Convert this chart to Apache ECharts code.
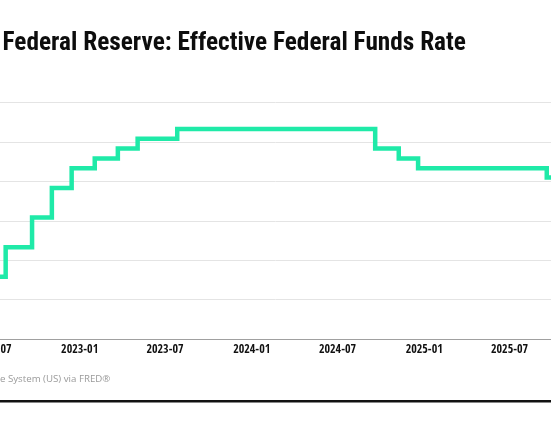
<!DOCTYPE html>
<html>
<head>
<meta charset="utf-8">
<script src="https://cdn.jsdelivr.net/npm/echarts@6/dist/echarts.min.js"></script>
<style>
  html, body { margin: 0; padding: 0; background: #ffffff; }
  #chart { width: 551px; height: 431px; }
</style>
</head>
<body>
<div id="chart"></div>
<script>
// ---- data ----
const changeDates = ['2022-06-16','2022-07-28','2022-09-22','2022-11-03','2022-12-15','2023-02-02','2023-03-23','2023-05-04','2023-07-27','2024-09-19','2024-11-08','2024-12-19','2025-09-18','2025-11-01'];
const rates       = [1.58, 2.33, 3.08, 3.83, 4.33, 4.58, 4.83, 5.08, 5.33, 4.83, 4.58, 4.33, 4.10, 4.10];
const tickLabels  = ['2022-07','2023-01','2023-07','2024-01','2024-07','2025-01','2025-07'];
const yTicks      = [0, 1, 2, 3, 4, 5, 6];
const titleText   = 'Federal Reserve: Effective Federal Funds Rate';
const sourceText  = 'e System (US) via FRED®';

function toTs(s) {
  const p = s.split('-').map(Number);
  return Date.UTC(p[0], p[1] - 1, p[2] || 1);
}
const seriesData = changeDates.map((d, i) => [toTs(d), rates[i]]);
const tickValues = tickLabels.map(toTs);
const labelFor = v => {
  const i = tickValues.indexOf(v);
  return i >= 0 ? tickLabels[i] : '';
};

const chart = echarts.init(document.getElementById('chart'), null, { renderer: 'canvas' });
chart.setOption({
  animation: false,
  backgroundColor: '#ffffff',
  title: {
    text: titleText,
    left: 2.5,
    top: 31,
    padding: 0,
    textStyle: {
      fontFamily: '"Roboto Condensed", "Open Sans Condensed", sans-serif',
      fontWeight: 'bold',
      fontSize: 25.3,
      color: '#0d0d0d'
    }
  },
  grid: {
    left: -21.2,
    right: -16.5,
    top: 102.5,
    bottom: 92,
    containLabel: false,
    outerBoundsMode: 'none'
  },
  xAxis: {
    type: 'value',
    min: toTs('2022-06-01'),
    max: toTs('2025-11-01'),
    axisLine: { show: true, lineStyle: { color: '#a0a0a0', width: 1.2 } },
    axisTick: { show: false },
    splitLine: { show: false },
    axisLabel: {
      customValues: tickValues,
      formatter: labelFor,
      margin: 5,
      fontFamily: '"Open Sans Condensed", "Roboto Condensed", sans-serif',
      fontWeight: 'bold',
      fontSize: 12,
      color: '#111111',
      hideOverlap: false
    }
  },
  yAxis: {
    type: 'value',
    min: yTicks[0],
    max: yTicks[yTicks.length - 1],
    interval: 1,
    axisLabel: { show: false },
    axisLine: { show: false },
    axisTick: { show: false },
    splitLine: { show: true, lineStyle: { color: '#e4e4e4', width: 1 } }
  },
  series: [{
    type: 'line',
    step: 'end',
    data: seriesData,
    showSymbol: false,
    symbol: 'none',
    clip: true,
    lineStyle: { color: '#1feaa8', width: 4.5, cap: 'butt', join: 'miter' }
  }],
  graphic: [
    {
      type: 'text',
      left: 0,
      top: 374,
      style: { text: sourceText, fill: '#9a9a9a', font: '9.7px "Open Sans", "Noto Sans", sans-serif' }
    },
    {
      type: 'rect',
      left: 0,
      top: 400,
      shape: { width: 551, height: 2.5 },
      style: { fill: '#111111' }
    }
  ]
});
</script>
</body>
</html>
